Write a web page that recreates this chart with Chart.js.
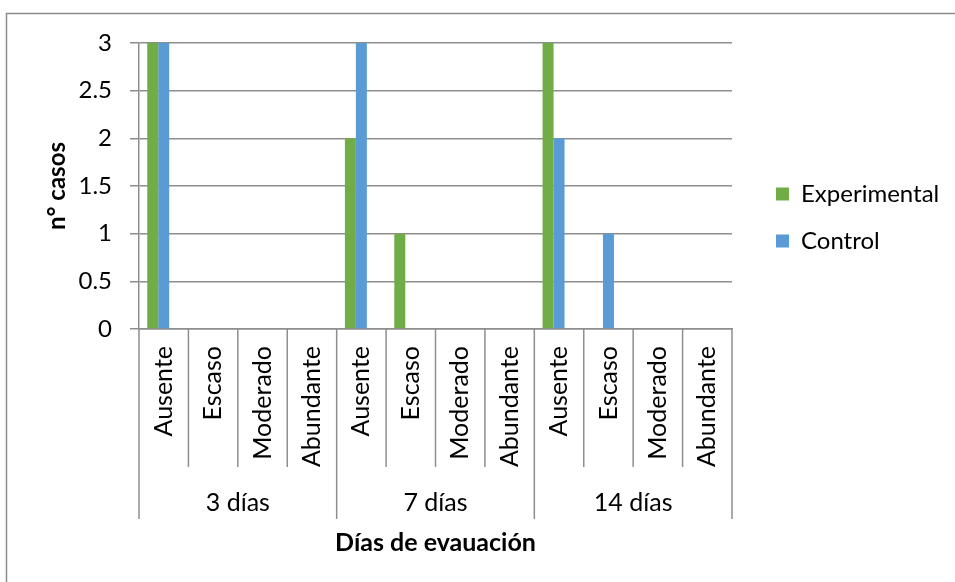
<!DOCTYPE html>
<html>
<head>
<meta charset="utf-8">
<script src="https://cdn.jsdelivr.net/npm/chart.js@4.4.0/dist/chart.umd.min.js"></script>
<style>
  html, body { margin: 0; padding: 0; background: #ffffff; }
  #wrap { position: relative; width: 955px; height: 582px; }
  canvas { display: block; }
</style>
</head>
<body>
<div id="wrap"><canvas id="c" width="955" height="582"></canvas></div>
<script>
// ---- data ----
const groups = ['3 días', '7 días', '14 días'];
const levels = ['Ausente', 'Escaso', 'Moderado', 'Abundante'];
const experimental = [3, 0, 0, 0, 2, 1, 0, 0, 3, 0, 0, 0];
const control      = [3, 0, 0, 0, 3, 0, 0, 0, 2, 1, 0, 0];
const yTicks = [0, 0.5, 1, 1.5, 2, 2.5, 3];
const seriesNames = ['Experimental', 'Control'];
const xTitle = 'Días de evauación';
const yTitle = 'n° casos';

const labels = groups.flatMap(() => levels);

const FONT = 'Lato';
const FS = 24;
const GRID = '#8e8e8e';

Chart.defaults.font.family = FONT;
Chart.defaults.font.size = FS;
Chart.defaults.color = '#000000';

// legend width → right padding so the plot ends where the reference does
const mctx = document.createElement('canvas').getContext('2d');
mctx.font = FS + 'px ' + FONT;
const textW = Math.max(...seriesNames.map(s => mctx.measureText(s).width));
const LEG_PAD = 23, BOX = 13, LEG_GAP = 21;
const legendW = LEG_PAD + BOX + FS / 2 + textW + 10 + LEG_GAP;
const padRight = Math.max(0, 223 - legendW);

const frame = {
  id: 'frame',
  beforeDraw(chart) {
    const ctx = chart.ctx;
    ctx.save();
    ctx.strokeStyle = '#8c8c8c';
    ctx.lineWidth = 1.5;
    ctx.beginPath();
    ctx.moveTo(6.5, 582); ctx.lineTo(6.5, 13.5); ctx.lineTo(955, 13.5);
    ctx.stroke();
    ctx.restore();
  }
};

// leave a gap between the plot and the legend items
const legendGap = {
  id: 'legendGap',
  afterInit(chart) {
    const lg = chart.legend;
    if (!lg || lg._gapWrapped) return;
    const fit = lg.fit.bind(lg);
    const draw = lg.draw.bind(lg);
    lg.fit = function () { fit(); this.width += LEG_GAP; };
    lg.draw = function () {
      const ctx = chart.ctx;
      ctx.save(); ctx.translate(LEG_GAP, 0); draw(); ctx.restore();
    };
    lg._gapWrapped = true;
  }
};

const separators = {
  id: 'separators',
  afterDraw(chart) {
    const xs = chart.scales.x, x2 = chart.scales.x2;
    const n = labels.length;
    const w = (xs.right - xs.left) / n;
    const ctx = chart.ctx;
    ctx.save();
    ctx.strokeStyle = GRID;
    ctx.lineWidth = 1.5;
    ctx.beginPath();
    for (let i = 0; i <= n; i++) {
      const px = i < n ? xs.getPixelForValue(i) - w / 2 : xs.getPixelForValue(n - 1) + w / 2;
      const isGroup = i % levels.length === 0;
      const yEnd = isGroup ? x2.top + 52 : xs.bottom;
      ctx.moveTo(px, xs.top);
      ctx.lineTo(px, yEnd);
    }
    ctx.stroke();
    ctx.restore();
  }
};

new Chart(document.getElementById('c'), {
  type: 'bar',
  data: {
    labels: labels,
    datasets: [
      { label: seriesNames[0], data: experimental, backgroundColor: '#70AD47' },
      { label: seriesNames[1], data: control, backgroundColor: '#5B9BD5' },
      { label: '', data: [], backgroundColor: 'rgba(0,0,0,0)' }
    ]
  },
  options: {
    responsive: false,
    animation: false,
    devicePixelRatio: 1,
    layout: { padding: { left: 30, top: 43, right: padRight, bottom: 0 } },
    datasets: { bar: { categoryPercentage: 0.667, barPercentage: 1.0 } },
    plugins: {
      legend: {
        position: 'right',
        align: 'center',
        fullSize: false,
        title: { display: true, text: ' ', font: { size: 1 }, padding: { top: 31, bottom: 31 } },
        labels: {
          boxWidth: BOX, boxHeight: BOX, padding: LEG_PAD,
          font: { family: FONT, size: FS }, color: '#000000',
          filter: item => item.text !== ''
        }
      },
      tooltip: { enabled: false }
    },
    scales: {
      x: {
        type: 'category',
        position: 'bottom',
        grid: { display: false, drawTicks: false },
        border: { display: true, color: GRID, width: 1.5 },
        ticks: { minRotation: 90, maxRotation: 90, padding: 17, autoSkip: false, font: { family: FONT, size: 25 }, color: '#000000' },
        afterFit: s => { s.height = 138; }
      },
      x2: {
        type: 'category',
        position: 'bottom',
        labels: groups,
        offset: true,
        grid: { display: false, drawTicks: false },
        border: { display: false },
        ticks: { padding: 21, maxRotation: 0, autoSkip: false, font: { family: FONT, size: 25 }, color: '#000000' },
        title: { display: true, text: xTitle, font: { family: FONT, size: 25, weight: 'bold' }, color: '#000000', padding: { top: 0, bottom: 24 } },
        afterFit: s => { s.height = 115; }
      },
      y: {
        type: 'linear',
        position: 'left',
        min: 0,
        max: 3,
        afterBuildTicks: s => { s.ticks = yTicks.map(v => ({ value: v })); },
        grid: { color: GRID, lineWidth: 1.5, drawTicks: true, tickLength: 9 },
        border: { display: true, color: GRID, width: 1.5 },
        ticks: { padding: 18, font: { family: FONT, size: FS }, color: '#000000', callback: v => String(v) },
        title: { display: true, text: yTitle, font: { family: FONT, size: FS, weight: 'bold' }, color: '#000000', padding: { top: 13, bottom: 0 } },
        afterFit: s => { s.width = 109; }
      }
    }
  },
  plugins: [frame, legendGap, separators]
});
</script>
</body>
</html>
